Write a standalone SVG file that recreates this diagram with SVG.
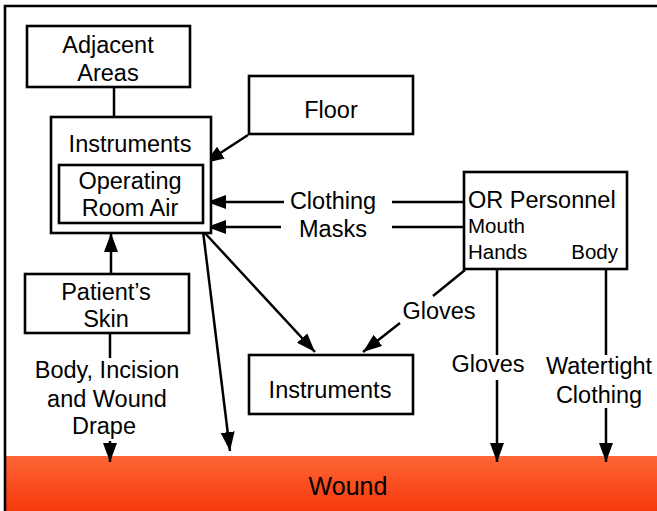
<svg xmlns="http://www.w3.org/2000/svg" width="657" height="511" viewBox="0 0 657 511">
<style>
.box{fill:#fff;stroke:#000;stroke-width:2.6}
.ln{fill:none;stroke:#000;stroke-width:2.5}
.t{font-family:"Liberation Sans",Arial,Helvetica,sans-serif;font-size:23.5px;fill:#000;text-anchor:middle}
.s{font-family:"Liberation Sans",Arial,Helvetica,sans-serif;font-size:20.5px;fill:#000}
</style>
<defs>
<marker id="ah" markerUnits="userSpaceOnUse" markerWidth="20" markerHeight="14" refX="19" refY="7" orient="auto">
<path d="M0,0 L19,7 L0,14 z" fill="#000"/>
</marker>
<linearGradient id="wg" x1="0" y1="0" x2="0" y2="1">
<stop offset="0" stop-color="#FF6535"/>
<stop offset="1" stop-color="#F4390D"/>
</linearGradient>
</defs>
<rect x="0" y="0" width="657" height="511" fill="#fff"/>
<g id="wound">
<rect x="5" y="456" width="652" height="55" fill="url(#wg)"/>
<text class="t" x="348" y="495" style="font-size:25px">Wound</text>
</g>
<path d="M5,511 V6 H657" fill="none" stroke="#000" stroke-width="2.6"/>
<g id="connectors">
<line class="ln" x1="114" y1="87" x2="114" y2="117"/>
<line class="ln" x1="248" y1="135" x2="205" y2="163" marker-end="url(#ah)"/>
<line class="ln" x1="284" y1="202" x2="207" y2="202" marker-end="url(#ah)"/>
<line class="ln" x1="392" y1="202" x2="464" y2="202"/>
<line class="ln" x1="281" y1="227" x2="207" y2="227" marker-end="url(#ah)"/>
<line class="ln" x1="392" y1="227" x2="464" y2="227"/>
<line class="ln" x1="111" y1="274" x2="111" y2="233" marker-end="url(#ah)"/>
<line class="ln" x1="110" y1="333" x2="110" y2="358"/>
<line class="ln" x1="110" y1="441" x2="110" y2="462" marker-end="url(#ah)"/>
<line class="ln" x1="203" y1="231" x2="315" y2="352" marker-end="url(#ah)"/>
<line class="ln" x1="203" y1="231" x2="230" y2="451" marker-end="url(#ah)"/>
<line class="ln" x1="465" y1="270" x2="433" y2="296"/>
<line class="ln" x1="400" y1="323" x2="363" y2="352" marker-end="url(#ah)"/>
<line class="ln" x1="497" y1="269" x2="497" y2="355"/>
<line class="ln" x1="497" y1="380" x2="497" y2="462" marker-end="url(#ah)"/>
<line class="ln" x1="606" y1="269" x2="606" y2="355"/>
<line class="ln" x1="606" y1="408" x2="606" y2="462" marker-end="url(#ah)"/>
</g>
<g id="labels">
<text class="t" x="333" y="209">Clothing</text>
<text class="t" x="333" y="237">Masks</text>
<text class="t" x="439" y="319">Gloves</text>
<text class="t" x="488" y="372">Gloves</text>
<text class="t" x="599" y="374">Watertight</text>
<text class="t" x="599" y="403">Clothing</text>
<text class="t" x="107" y="378">Body, Incision</text>
<text class="t" x="107" y="407">and Wound</text>
<text class="t" x="104" y="434">Drape</text>
</g>
<g id="adjacent-areas">
<rect class="box" x="27" y="26" width="163" height="61"/>
<text class="t" x="108" y="53">Adjacent</text>
<text class="t" x="108" y="81">Areas</text>
</g>
<g id="floor">
<rect class="box" x="249" y="76" width="164" height="58"/>
<text class="t" x="331" y="118">Floor</text>
</g>
<g id="instruments-air">
<rect class="box" x="51" y="117" width="160" height="116"/>
<text class="t" x="130" y="152">Instruments</text>
</g>
<g id="operating-room-air">
<rect class="box" x="59" y="165" width="144" height="58"/>
<text class="t" x="130" y="189">Operating</text>
<text class="t" x="130" y="216">Room Air</text>
</g>
<g id="or-personnel">
<rect class="box" x="464" y="172" width="163" height="97"/>
<text class="t" x="468" y="208" style="text-anchor:start">OR Personnel</text>
<text class="s" x="468" y="233">Mouth</text>
<text class="s" x="468" y="259">Hands</text>
<text class="s" x="618" y="259" style="text-anchor:end">Body</text>
</g>
<g id="patients-skin">
<rect class="box" x="25" y="274" width="164" height="59"/>
<text class="t" x="106" y="300">Patient’s</text>
<text class="t" x="106" y="327">Skin</text>
</g>
<g id="instruments">
<rect class="box" x="249" y="355" width="164" height="59"/>
<text class="t" x="330" y="398">Instruments</text>
</g>
</svg>
